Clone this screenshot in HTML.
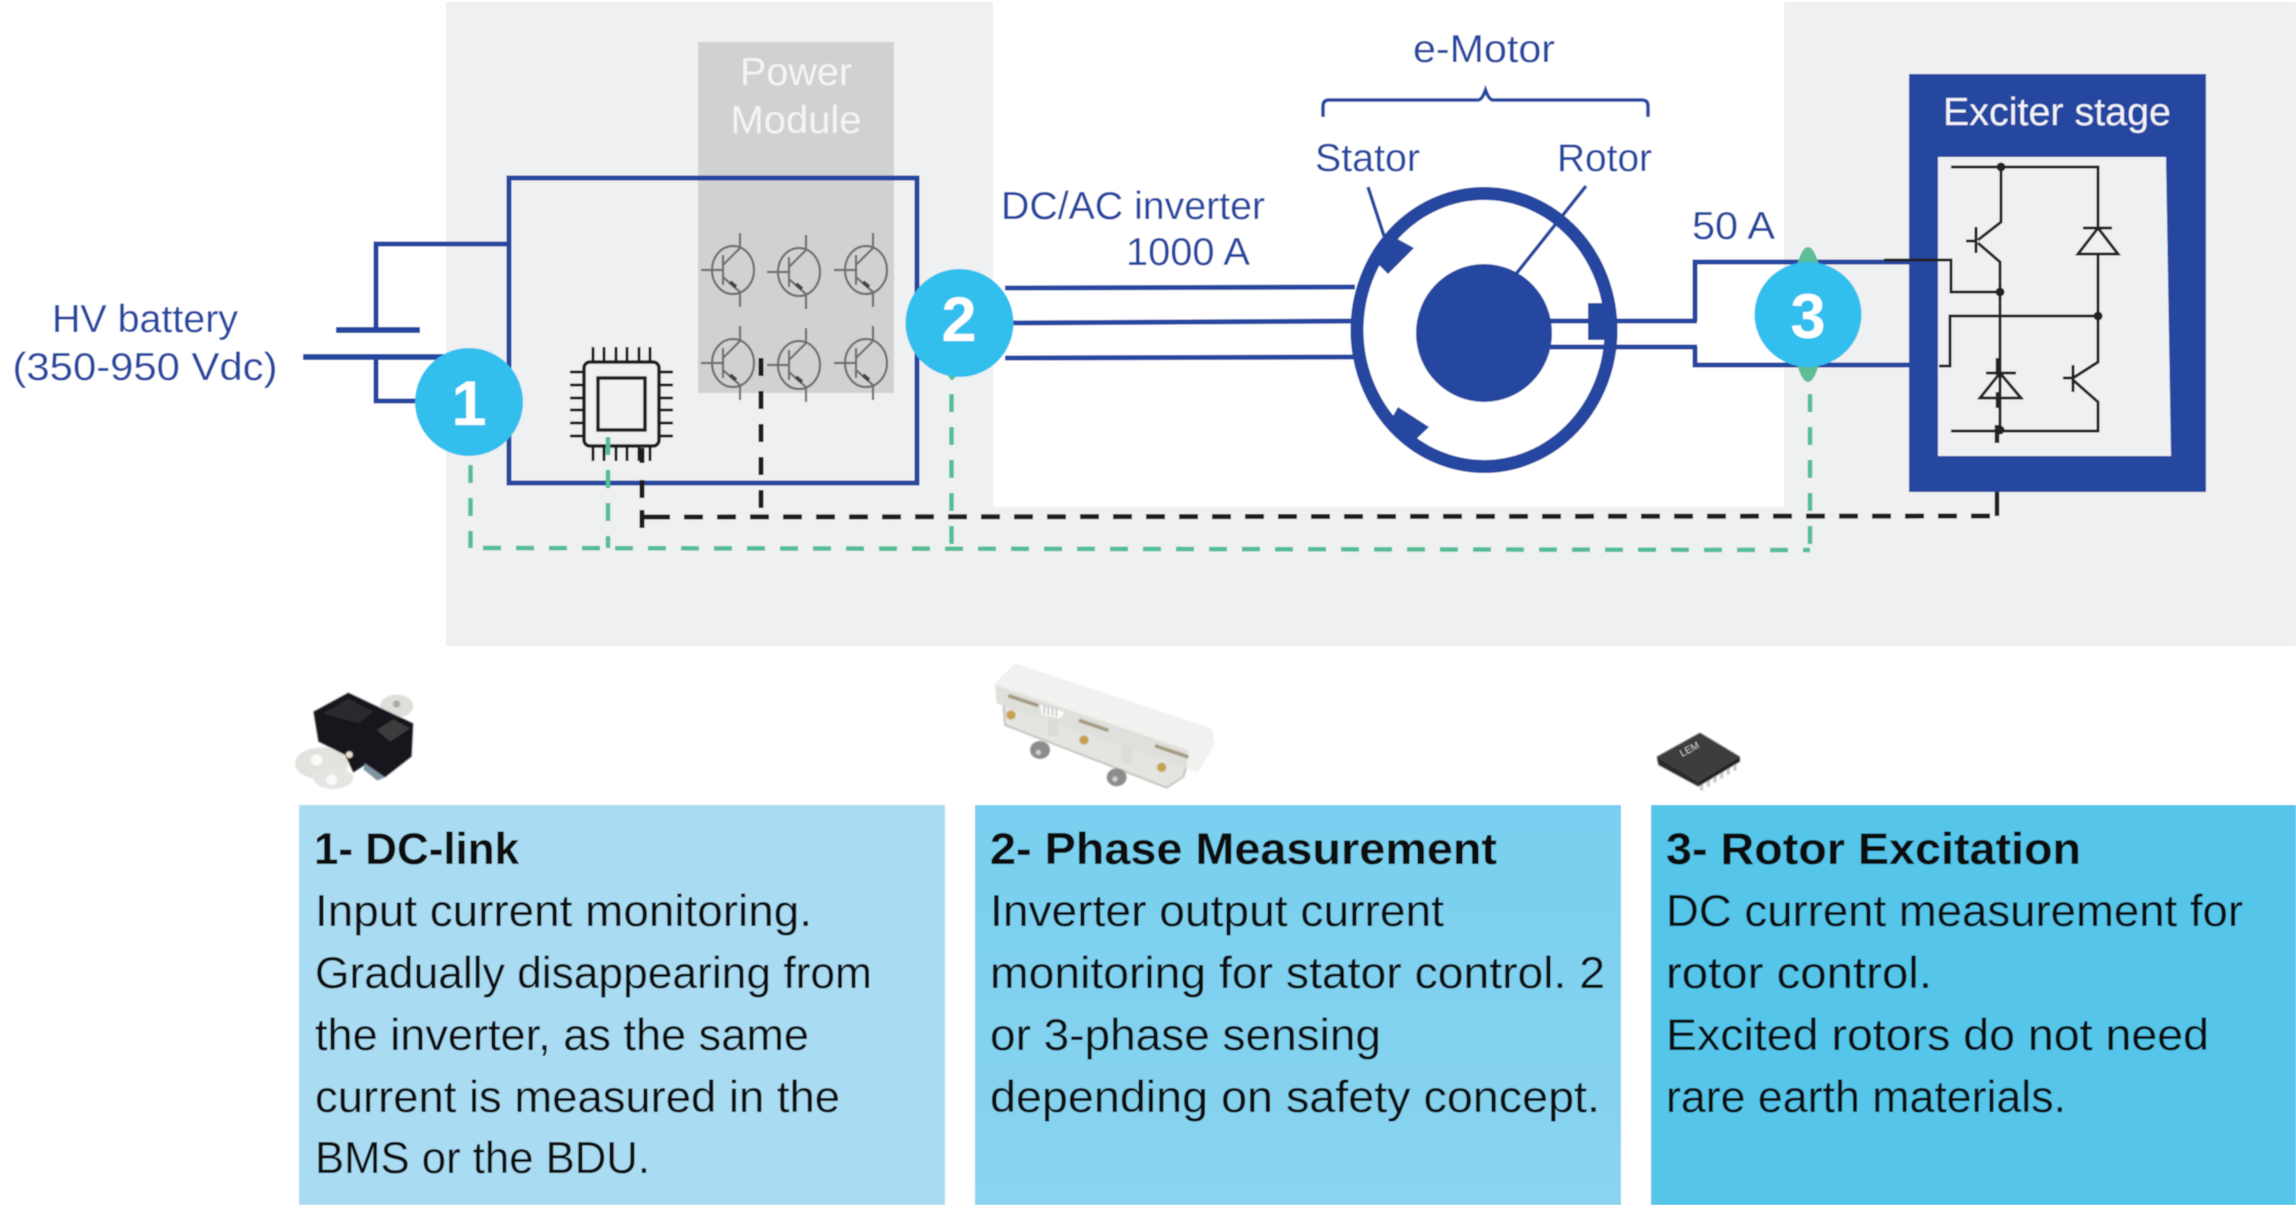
<!DOCTYPE html>
<html><head><meta charset="utf-8"><title>Inverter current sensing</title>
<style>html,body{margin:0;padding:0;background:#fff}svg{display:block}text{font-family:"Liberation Sans",sans-serif}</style>
</head><body>
<svg width="2296" height="1205" viewBox="0 0 2296 1205" xmlns="http://www.w3.org/2000/svg">
<defs>
<linearGradient id="g2" x1="0" y1="0" x2="0" y2="1"><stop offset="0" stop-color="#78cfef"/><stop offset="1" stop-color="#8ad4f0"/></linearGradient>
<filter id="bl" x="-10%" y="-10%" width="120%" height="120%"><feGaussianBlur stdDeviation="1.6"/></filter>
<filter id="soft" filterUnits="userSpaceOnUse" x="0" y="0" width="2296" height="1205"><feGaussianBlur stdDeviation="0.5"/></filter>
<g id="tr" fill="none" stroke="#707070" stroke-width="2.200">
<ellipse cx="0" cy="0" rx="21" ry="24"/>
<path d="M-32 0H-10M-10 -15V15M-10 -5L7 -22V-37M-10 7L7 22V37"/>
<path d="M-3 12L3 17" stroke="#444" stroke-width="4"/>
</g>
</defs>
<g filter="url(#soft)">
<rect width="2296" height="1205" fill="#fff"/>
<!-- grey background -->
<rect x="446" y="2" width="1850" height="644" fill="#eff0f1"/>
<rect x="993" y="0" width="791" height="507" fill="#fff"/>
<!-- power module -->
<rect x="698" y="42" width="196" height="351" fill="#d0d1d2"/>
<text x="796" y="85" font-size="39" fill="#f4f4f4" text-anchor="middle" textLength="112" lengthAdjust="spacingAndGlyphs">Power</text>
<text x="796" y="133" font-size="39" fill="#f4f4f4" text-anchor="middle" textLength="131" lengthAdjust="spacingAndGlyphs">Module</text>
<use href="#tr" x="733" y="270"/><use href="#tr" x="799" y="272"/><use href="#tr" x="866" y="270"/>
<use href="#tr" x="733" y="363"/><use href="#tr" x="799" y="365"/><use href="#tr" x="866" y="363"/>
<!-- inverter box & battery -->
<g fill="none" stroke="#2546a0" stroke-width="5">
<rect x="509" y="178" width="408" height="305"/>
<path d="M508 244H376V330M376 357V401H430"/>
<path d="M336 330H420" stroke-width="6"/>
<path d="M303 357H445" stroke-width="6"/>
<!-- phase wires -->
<path d="M1005 288L1355 287M1005 323L1355 321M1005 358L1355 357"/>
<path d="M1909 262H1695V321M1695 346V365H1909"/>
<!-- brace -->
<path d="M1323 117V106Q1323 100 1329 100H1478Q1482 100 1485.500 90Q1489 100 1493 100H1642Q1648 100 1648 106V117" stroke-width="3.500"/>
<!-- motor -->
<ellipse cx="1484" cy="330" rx="127" ry="136.500" stroke-width="13" fill="#fff"/>
<path d="M1368 187L1384 236M1586 186L1516 274" stroke-width="3.500"/>
</g>
<ellipse cx="1484" cy="333" rx="68" ry="69" fill="#2546a0"/>
<g fill="none" stroke="#2546a0" stroke-width="5"><path d="M1540 321H1697M1540 347H1697"/></g>
<g fill="#2546a0">
<polygon points="1392,236 1414,248 1388,274 1376,262"/>
<polygon points="1398,407 1429,427 1408,447 1388,425"/>
<rect x="1588" y="303" width="27" height="37"/>
</g>
<text x="1413" y="62" font-size="39" fill="#2546a0" textLength="142" lengthAdjust="spacingAndGlyphs">e-Motor</text>
<text x="1315" y="171" font-size="39" fill="#2546a0" textLength="105" lengthAdjust="spacingAndGlyphs">Stator</text>
<text x="1557" y="171" font-size="39" fill="#2546a0" textLength="95" lengthAdjust="spacingAndGlyphs">Rotor</text>
<text x="1001" y="219" font-size="39" fill="#2546a0" textLength="264" lengthAdjust="spacingAndGlyphs">DC/AC inverter</text>
<text x="1126" y="265" font-size="39" fill="#2546a0" textLength="124" lengthAdjust="spacingAndGlyphs">1000 A</text>
<text x="1692" y="239" font-size="39" fill="#2546a0" textLength="83" lengthAdjust="spacingAndGlyphs">50 A</text>
<text x="145" y="332" font-size="39" fill="#2546a0" text-anchor="middle" textLength="186" lengthAdjust="spacingAndGlyphs">HV battery</text>
<text x="145" y="380" font-size="39" fill="#2546a0" text-anchor="middle" textLength="265" lengthAdjust="spacingAndGlyphs">(350-950 Vdc)</text>
<!-- chip -->
<g fill="none" stroke="#1d1d1d" stroke-width="3">
<rect x="584" y="362" width="75" height="84" rx="6" stroke-width="3.500"/>
<rect x="598" y="378" width="47" height="52" stroke-width="3.500"/>
<path d="M593 347V362M604 347V362M616 347V362M627 347V362M639 347V362M650 347V362"/>
<path d="M593 446V461M604 446V461M616 446V461M627 446V461M639 446V461M650 446V461"/>
<path d="M570 372H584M570 385H584M570 398H584M570 410H584M570 423H584M570 436H584"/>
<path d="M659 372H673M659 385H673M659 398H673M659 410H673M659 423H673M659 436H673"/>
</g>
<!-- dashed control lines -->
<g fill="none" stroke="#1f1f1f" stroke-width="5">
<path d="M651 517L1997 516" stroke-dasharray="19 14"/>
<path d="M1997 492V516" stroke-width="4.500"/>
<path d="M761 358V510" stroke-dasharray="18 15"/>
<path d="M642 448V463M642 480V498M642 510V528"/>
<path d="M642 517H655"/>
</g>
<g fill="none" stroke="#52bd95" stroke-width="4.500">
<path d="M470.500 465V548M608 437V548M951.500 394V548M1810 394V550" stroke-dasharray="18 15"/>
<path d="M483 548L1810 550" stroke-dasharray="18 15"/>
</g>
<!-- exciter -->
<rect x="1909" y="74" width="297" height="418" fill="#2546a0"/>
<polygon points="1938,157 2166,157 2171,456 1938,456" fill="#eff0f1"/>
<text x="1943" y="125" font-size="39" fill="#f2f2f8" textLength="228" lengthAdjust="spacingAndGlyphs">Exciter stage</text>
<g fill="none" stroke="#222" stroke-width="3">
<path d="M1951 167H2098V228M2001 167V222L1978 240M1976 227V253M1966 241H1976M1978 243L2000 262V430"/>
<path d="M1884 260H1951V292H2000M1939 366H1950V316H2098"/>
<path d="M2083 228H2112M2098 228L2078 254H2118ZM2098 254V362L2073 378M2073 365V392M2063 378H2073M2073 380L2098 402V431H1951"/>
<path d="M1986 373H2016M2000 373L1980 398H2021Z"/>
<path d="M1998 358V375M1998 392V408M1997 425V443" stroke-width="4.500"/>
</g>
<g fill="#222"><circle cx="2001" cy="167" r="4.500"/><circle cx="2000" cy="292" r="4.500"/><circle cx="2098" cy="316" r="4.500"/><circle cx="2000" cy="430" r="4.500"/></g>
<!-- badges -->
<ellipse cx="952" cy="325" rx="10" ry="55" fill="#52bd95"/>
<ellipse cx="1808" cy="314.500" rx="16" ry="67.500" fill="#5bbd96"/>
<circle cx="469" cy="402" r="54" fill="#31bfee"/>
<circle cx="959.500" cy="323" r="54" fill="#31bfee"/>
<ellipse cx="1808" cy="314.500" rx="53.500" ry="52.500" fill="#31bfee"/>
<text x="469" y="425" font-size="63" font-weight="bold" fill="#fff" text-anchor="middle">1</text>
<text x="959" y="341" font-size="63" font-weight="bold" fill="#fff" text-anchor="middle">2</text>
<text x="1808" y="338" font-size="63" font-weight="bold" fill="#fff" text-anchor="middle">3</text>
<!-- product 1 -->
<g transform="translate(290 680) scale(.3333)" filter="url(#bl)">
<ellipse cx="320" cy="78" rx="50" ry="34" fill="#dededa"/><circle cx="320" cy="72" r="11" fill="#a8a8a4"/>
<ellipse cx="95" cy="250" rx="80" ry="48" fill="#e2e2de"/>
<ellipse cx="130" cy="295" rx="60" ry="32" fill="#e6e5e2"/>
<circle cx="80" cy="240" r="17" fill="#fafafa"/><circle cx="125" cy="300" r="16" fill="#fafafa"/>
<polygon points="70,95 175,38 370,130 365,230 285,292 225,255 190,278 165,225 85,185" fill="#17181a"/>
<polygon points="100,100 175,55 250,95 205,130" fill="#2a2b2e"/>
<polygon points="260,150 310,118 360,145 300,185" fill="#3b3c3e"/>
<polygon points="225,250 285,292 262,302 220,268" fill="#7e93a3"/>
<circle cx="178" cy="224" r="10" fill="#f0ddd0"/>
</g>
<!-- product 2 -->
<g transform="translate(985 655) scale(.3333)" filter="url(#bl)">
<polygon points="55,140 610,320 595,365 545,398 60,210" fill="#e4e4e1" stroke="#c4c4c0" stroke-width="6"/>
<polygon points="30,85 90,25 680,220 690,265 640,352 605,340 35,140" fill="#f1f1ef"/>
<polygon points="30,90 610,285 605,340 35,145" fill="#dfdfdc"/>
<path d="M70 122L160 152M282 196L370 226M510 272L610 306" stroke="#a49a7f" stroke-width="11"/>
<polygon points="165,150 240,172 225,190 170,180" fill="#fbfbfb"/>
<path d="M178 152V178M190 155V180M202 158V182M214 162V185" stroke="#9a9a96" stroke-width="3"/>
<rect x="190" y="195" width="30" height="50" fill="#dcdcd8"/><rect x="410" y="275" width="30" height="50" fill="#dcdcd8"/>
<circle cx="78" cy="180" r="14" fill="#c5a24e"/><circle cx="297" cy="255" r="14" fill="#c5a24e"/><circle cx="530" cy="337" r="14" fill="#c5a24e"/>
<ellipse cx="165" cy="285" rx="30" ry="27" fill="#8c8c8c"/><ellipse cx="395" cy="367" rx="30" ry="27" fill="#8c8c8c"/>
<circle cx="160" cy="292" r="8" fill="#cfcfcf"/><circle cx="390" cy="372" r="8" fill="#cfcfcf"/>
</g>
<!-- product 3 -->
<g transform="translate(1640 720) scale(.3333)" filter="url(#bl)">
<path d="M185 190V212M205 178V200M225 166V188M245 154V176M265 142V164M285 130V152" stroke="#c4c4c4" stroke-width="9"/>
<polygon points="50,110 175,185 175,200 55,135" fill="#2a2a2c"/>
<polygon points="175,185 300,110 300,125 175,200" fill="#232325"/>
<polygon points="50,110 180,38 300,110 175,185" fill="#3c3c3f"/>
</g>
<text transform="translate(1682 757) rotate(-28)" font-size="10" fill="#c7c7c7">LEM</text>
<!-- boxes -->
<rect x="299" y="805" width="646" height="400" fill="#a9dcf3"/>
<rect x="975" y="805" width="646" height="400" fill="url(#g2)"/>
<rect x="1651" y="805" width="645" height="400" fill="#54c5ea"/>
<g fill="#0d0d0d" font-size="44.500">
<text x="314" y="864" font-weight="bold" textLength="205" lengthAdjust="spacingAndGlyphs">1- DC-link</text>
<text x="315" y="926" textLength="497" lengthAdjust="spacingAndGlyphs">Input current monitoring.</text>
<text x="315" y="988" textLength="557" lengthAdjust="spacingAndGlyphs">Gradually disappearing from</text>
<text x="315" y="1050" textLength="494" lengthAdjust="spacingAndGlyphs">the inverter, as the same</text>
<text x="315" y="1112" textLength="525" lengthAdjust="spacingAndGlyphs">current is measured in the</text>
<text x="315" y="1173" textLength="335" lengthAdjust="spacingAndGlyphs">BMS or the BDU.</text>
<text x="990" y="864" font-weight="bold" textLength="507" lengthAdjust="spacingAndGlyphs">2- Phase Measurement</text>
<text x="990" y="926" textLength="454" lengthAdjust="spacingAndGlyphs">Inverter output current</text>
<text x="990" y="988" textLength="615" lengthAdjust="spacingAndGlyphs">monitoring for stator control. 2</text>
<text x="990" y="1050" textLength="391" lengthAdjust="spacingAndGlyphs">or 3-phase sensing</text>
<text x="990" y="1112" textLength="610" lengthAdjust="spacingAndGlyphs">depending on safety concept.</text>
<text x="1666" y="864" font-weight="bold" textLength="415" lengthAdjust="spacingAndGlyphs">3- Rotor Excitation</text>
<text x="1666" y="926" textLength="577" lengthAdjust="spacingAndGlyphs">DC current measurement for</text>
<text x="1666" y="988" textLength="266" lengthAdjust="spacingAndGlyphs">rotor control.</text>
<text x="1666" y="1050" textLength="543" lengthAdjust="spacingAndGlyphs">Excited rotors do not need</text>
<text x="1666" y="1112" textLength="400" lengthAdjust="spacingAndGlyphs">rare earth materials.</text>
</g>
</g>
</svg>
</body></html>
